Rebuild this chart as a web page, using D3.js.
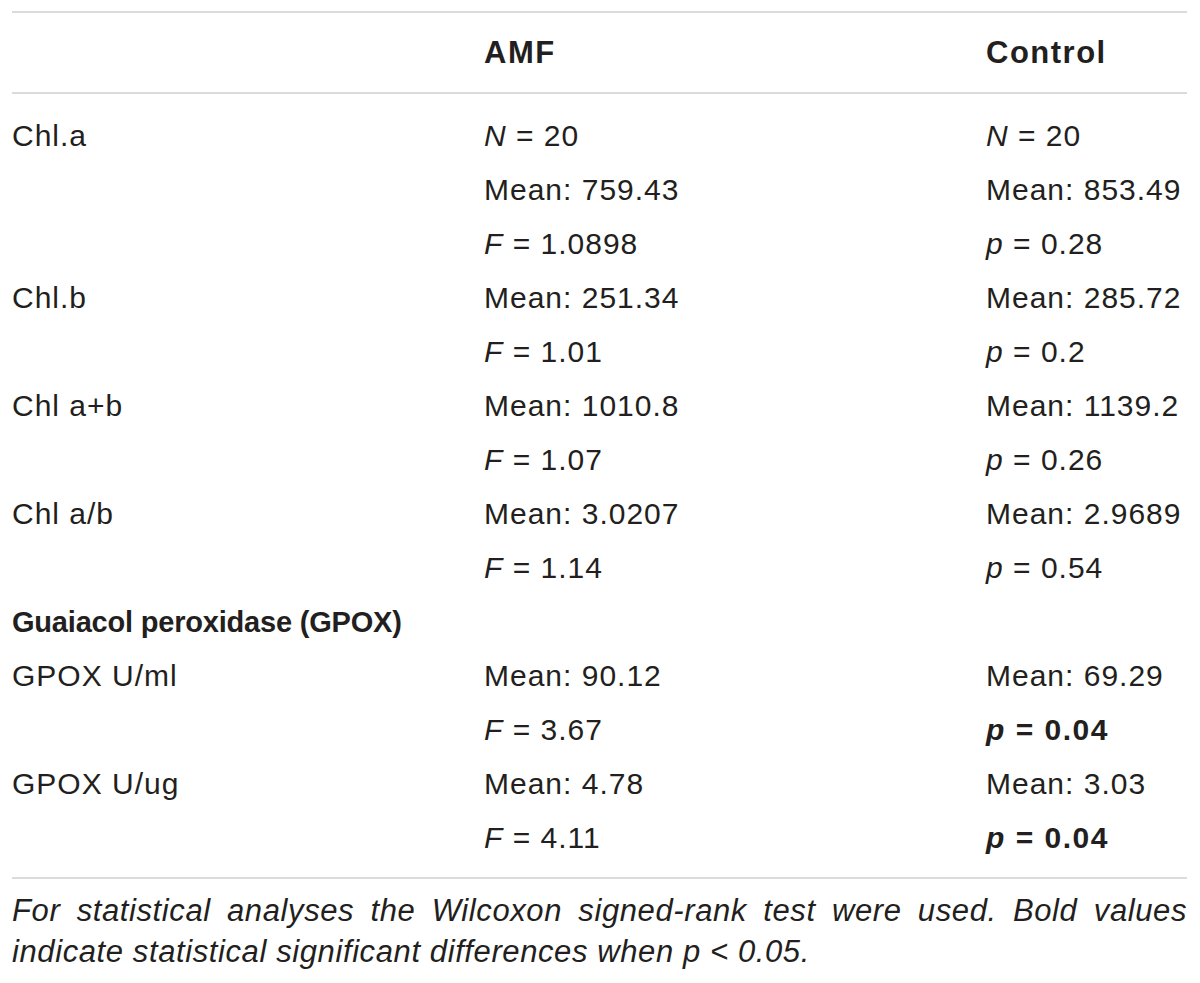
<!DOCTYPE html>
<html>
<head>
<meta charset="utf-8">
<script src="https://cdn.jsdelivr.net/npm/d3@7"></script>
<style>
  html, body { margin: 0; padding: 0; background: #fff; }
  svg { display: block; }
</style>
</head>
<body>
<svg id="tbl" width="1200" height="983"></svg>
<script>
const headers = ["", "AMF", "Control"]

const rowLabels = [
  "Chl.a", "", "",
  "Chl.b", "",
  "Chl a+b", "",
  "Chl a/b", "",
  "Guaiacol peroxidase (GPOX)",
  "GPOX U/ml", "",
  "GPOX U/ug", "",
]

const amfCells = [
  "N = 20", "Mean: 759.43", "F = 1.0898",
  "Mean: 251.34", "F = 1.01",
  "Mean: 1010.8", "F = 1.07",
  "Mean: 3.0207", "F = 1.14",
  "",
  "Mean: 90.12", "F = 3.67",
  "Mean: 4.78", "F = 4.11",
]

const controlCells = [
  "N = 20", "Mean: 853.49", "p = 0.28",
  "Mean: 285.72", "p = 0.2",
  "Mean: 1139.2", "p = 0.26",
  "Mean: 2.9689", "p = 0.54",
  "",
  "Mean: 69.29", "p = 0.04",
  "Mean: 3.03", "p = 0.04",
]

// rows in bold: section header (label col) and significant p values (control col)
const sectionRows = [9]
const significantRows = [11, 13]

const footnote = [
  "For statistical analyses the Wilcoxon signed-rank test were used. Bold values",
  "indicate statistical significant differences when p < 0.05.",
]

const svg = d3.select("#tbl")
const FONT = "'Liberation Sans', Arial, Helvetica, sans-serif"
const ink = "#231f20"
const rule = "#cfcfcf"

const left = 12, right = 1187

const x = d3.scaleOrdinal().domain(["label", "amf", "control"]).range([12, 484, 986])
const y = d3.scalePoint().domain(d3.range(rowLabels.length)).range([146, 848])

// horizontal rules
const rules = [12, 93, 878]
svg.append("g").selectAll("line").data(rules).join("line")
  .attr("x1", left).attr("x2", right)
  .attr("y1", (d) => d).attr("y2", (d) => d)
  .attr("stroke", rule).attr("stroke-width", 1.6)

// header
svg.append("g").selectAll("text").data(headers.slice(1)).join("text")
  .attr("x", (d, i) => x(i === 0 ? "amf" : "control"))
  .attr("y", 63)
  .attr("font-family", FONT).attr("font-size", 31).attr("font-weight", "bold")
  .attr("letter-spacing", 1.5)
  .attr("fill", ink)
  .text((d) => d)

// write a cell, italicising the leading variable letter (N, F, p)
// style: "plain" | "section" | "sig"
function cell(g, txt, style) {
  const t = g.append("text")
    .attr("font-family", FONT)
    .attr("font-size", style === "section" ? 29 : 30)
    .attr("font-weight", style === "plain" ? "normal" : "bold")
    .attr("letter-spacing", style === "section" ? -0.2 : style === "sig" ? 1.5 : 1.0)
    .attr("fill", ink)
  const m = txt.match(/^([NFp])( = .*)$/)
  if (m) {
    t.append("tspan").attr("font-style", "italic").text(m[1])
    t.append("tspan").text(m[2])
  } else {
    t.text(txt)
  }
  return t
}

const body = svg.append("g")
rowLabels.forEach((lab, i) => {
  if (lab) cell(body, lab, sectionRows.includes(i) ? "section" : "plain").attr("x", x("label")).attr("y", y(i))
  if (amfCells[i]) cell(body, amfCells[i], "plain").attr("x", x("amf")).attr("y", y(i))
  if (controlCells[i]) cell(body, controlCells[i], significantRows.includes(i) ? "sig" : "plain").attr("x", x("control")).attr("y", y(i))
})

// footnote, first line justified to the table width
const fn = svg.append("g")
footnote.forEach((line, i) => {
  const t = fn.append("text")
    .attr("x", left).attr("y", 921 + i * 41)
    .attr("font-family", FONT).attr("font-size", 31).attr("font-style", "italic")
    .attr("letter-spacing", 0.6)
    .attr("fill", ink)
    .text(line)
  if (i === 0) {
    const w = t.node().getComputedTextLength()
    const gaps = line.split(" ").length - 1
    t.attr("word-spacing", (right - left - w) / gaps)
  }
})
</script>
</body>
</html>
